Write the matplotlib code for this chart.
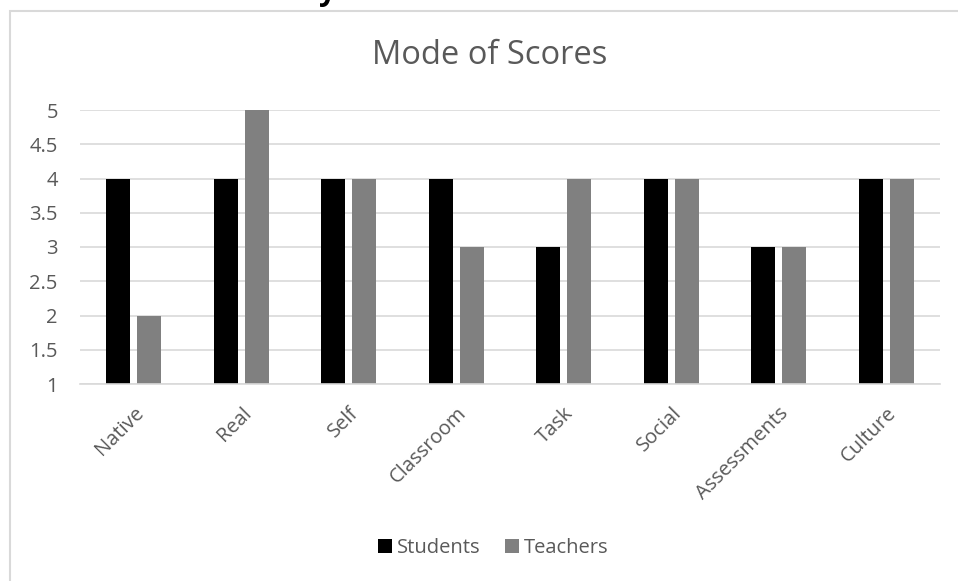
import matplotlib.pyplot as plt
import matplotlib.patches as mpatches
import numpy as np

categories = ['Native', 'Real', 'Self', 'Classroom', 'Task', 'Social', 'Assessments', 'Culture']
students = [4, 4, 4, 4, 3, 4, 3, 4]
teachers = [2, 5, 4, 3, 4, 4, 3, 4]
yticks = [1, 1.5, 2, 2.5, 3, 3.5, 4, 4.5, 5]

plt.rcParams['font.family'] = ['Open Sans', 'DejaVu Sans']

W, H = 958, 581
fig = plt.figure(figsize=(W / 100, H / 100), dpi=100)

# outer chart border (cut off at right and bottom)
fig.add_artist(mpatches.Rectangle((10 / W, -0.2), 1.3, 1.2 - 11 / H, transform=fig.transFigure,
                                  fill=False, edgecolor='#d9d9d9', linewidth=1.5))
# descender of text above the chart
fig.text(327 / W, 1.0, 'y', fontsize=22, fontweight='bold', color='black',
         ha='center', va='baseline')

ax = fig.add_axes([80 / W, 1 - 384 / H, 860 / W, 274 / H])

ind = np.arange(len(categories))
width = 0.223
off = 0.144
ax.bar(ind - off, np.array(students) - 1, width, bottom=1, color='black', label='Students')
ax.bar(ind + off, np.array(teachers) - 1, width, bottom=1, color='#808080', label='Teachers')

ax.set_xlim(-0.5, len(categories) - 0.5)
ax.set_ylim(1, 5)
ax.set_yticks(yticks)
ax.set_yticklabels(['%g' % v for v in yticks])
ax.yaxis.grid(True, color='#d9d9d9', linewidth=1.2)
ax.set_axisbelow(True)
for s in ['top', 'right', 'left']:
    ax.spines[s].set_visible(False)
ax.spines['bottom'].set_color('#d9d9d9')
ax.spines['bottom'].set_linewidth(1.2)
ax.tick_params(length=0, labelsize=14.5, colors='#595959')
ax.tick_params(axis='y', pad=16)
ax.tick_params(axis='x', pad=14)

ax.set_xticks(ind)
ax.set_xticklabels(categories, rotation=45, ha='right', rotation_mode='anchor')

fig.text(490 / W, 1 - 55 / H, 'Mode of Scores', fontsize=23.5, color='#595959', ha='center', va='center')

fig.legend(loc='center', bbox_to_anchor=(493 / W, 1 - 548 / H), ncol=2, frameon=False,
           fontsize=14.5, labelcolor='#595959', handlelength=0.7, handleheight=0.7,
           handletextpad=0.25, columnspacing=1.2)

fig.savefig('out.png', dpi=100)
